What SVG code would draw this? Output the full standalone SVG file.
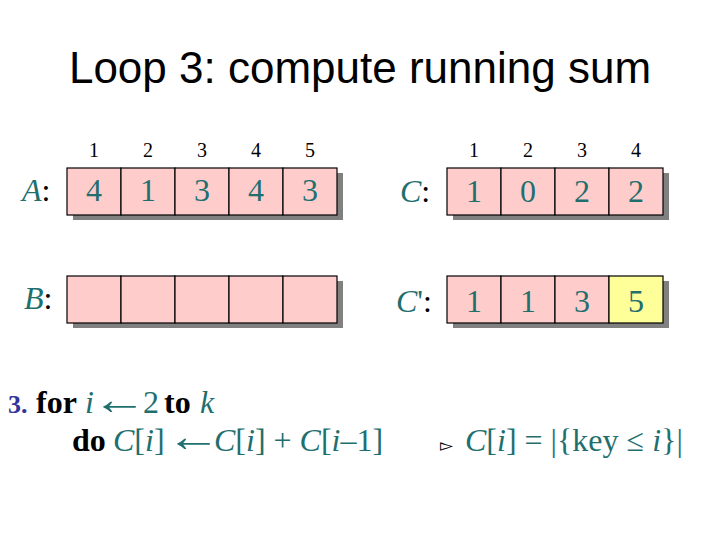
<svg xmlns="http://www.w3.org/2000/svg" width="720" height="540" viewBox="0 0 720 540">
<style>
.cell{fill:#ffcccc;stroke:#000;stroke-width:1.2}
.y{fill:#ffff99}
.sh{fill:#808080}
.idx{font-family:'Liberation Serif',serif;font-size:20px;fill:#000;text-anchor:middle}
.num{font-family:'Liberation Serif',serif;font-size:32px;fill:#1f6f6f;text-anchor:middle}
.lab{font-family:'Liberation Serif',serif;font-size:32px;fill:#1f6f6f}
.t{font-family:'Liberation Serif',serif;font-size:32px}
.tl{fill:#1f6f6f}
.it{font-style:italic}
.b{font-weight:bold;fill:#000}
.ar{font-family:'Liberation Serif',serif;font-size:44px;fill:#1f6f6f}
</style>
<rect width="720" height="540" fill="#fff"/>
<text x="360" y="83" font-family="Liberation Sans, Arial, sans-serif" font-size="44" text-anchor="middle" fill="#000">Loop 3: compute running sum</text>

<g id="arrayA">
<rect class="sh" x="73" y="173" width="270" height="47"/>
<rect class="cell" x="67" y="168" width="54" height="47"/>
<rect class="cell" x="121" y="168" width="54" height="47"/>
<rect class="cell" x="175" y="168" width="54" height="47"/>
<rect class="cell" x="229" y="168" width="54" height="47"/>
<rect class="cell" x="283" y="168" width="54" height="47"/>
<text class="idx" x="94" y="157">1</text><text class="idx" x="148" y="157">2</text><text class="idx" x="202" y="157">3</text><text class="idx" x="256" y="157">4</text><text class="idx" x="310" y="157">5</text>
<text class="num" x="94" y="201">4</text><text class="num" x="148" y="201">1</text><text class="num" x="202" y="201">3</text><text class="num" x="256" y="201">4</text><text class="num" x="310" y="201">3</text>
<text class="lab" x="22" y="201"><tspan class="it">A</tspan><tspan fill="#000">:</tspan></text>
</g>

<g id="arrayB">
<rect class="sh" x="73" y="281" width="270" height="47"/>
<rect class="cell" x="67" y="276" width="54" height="47"/>
<rect class="cell" x="121" y="276" width="54" height="47"/>
<rect class="cell" x="175" y="276" width="54" height="47"/>
<rect class="cell" x="229" y="276" width="54" height="47"/>
<rect class="cell" x="283" y="276" width="54" height="47"/>
<text class="lab" x="24" y="309"><tspan class="it">B</tspan><tspan fill="#000">:</tspan></text>
</g>

<g id="arrayC">
<rect class="sh" x="453" y="173" width="216" height="47"/>
<rect class="cell" x="447" y="168" width="54" height="47"/>
<rect class="cell" x="501" y="168" width="54" height="47"/>
<rect class="cell" x="555" y="168" width="54" height="47"/>
<rect class="cell" x="609" y="168" width="54" height="47"/>
<text class="idx" x="474" y="157">1</text><text class="idx" x="528" y="157">2</text><text class="idx" x="582" y="157">3</text><text class="idx" x="636" y="157">4</text>
<text class="num" x="474" y="202">1</text><text class="num" x="528" y="202">0</text><text class="num" x="582" y="202">2</text><text class="num" x="636" y="202">2</text>
<text class="lab" x="400" y="202"><tspan class="it">C</tspan><tspan fill="#000">:</tspan></text>
</g>

<g id="arrayC2">
<rect class="sh" x="453" y="281" width="216" height="47"/>
<rect class="cell" x="447" y="276" width="54" height="47"/>
<rect class="cell" x="501" y="276" width="54" height="47"/>
<rect class="cell" x="555" y="276" width="54" height="47"/>
<rect class="cell y" x="609" y="276" width="54" height="47"/>
<text class="num" x="474" y="312">1</text><text class="num" x="528" y="312">1</text><text class="num" x="582" y="312">3</text><text class="num" x="636" y="312">5</text>
<text class="lab" x="396" y="312"><tspan class="it">C</tspan><tspan>'</tspan><tspan fill="#000">:</tspan></text>
</g>

<g id="code">
<text class="t" x="8" y="413"><tspan font-size="26" font-weight="bold" fill="#333399">3.</tspan><tspan class="b" x="36">for</tspan><tspan class="tl it" x="85">i</tspan><tspan class="tl" x="143">2</tspan><tspan class="b" x="164">to</tspan><tspan class="tl it" x="200">k</tspan></text>
<text class="ar" transform="translate(92,413.5) scale(1.25,1)">←</text>
<text class="t" x="72" y="451"><tspan class="b">do</tspan><tspan class="tl" x="113"><tspan class="it">C</tspan>[<tspan class="it">i</tspan>]</tspan><tspan class="tl" x="214"><tspan class="it">C</tspan>[<tspan class="it">i</tspan>] + <tspan class="it">C</tspan>[<tspan class="it">i</tspan>–1]</tspan></text>
<text class="ar" transform="translate(166,451) scale(1.25,1)">←</text>
<text class="t" x="440" y="451"><tspan font-family="DejaVu Sans, sans-serif" font-size="17" fill="#000">▻</tspan><tspan class="tl" x="465"><tspan class="it">C</tspan>[<tspan class="it">i</tspan>] = |{key ≤ <tspan class="it">i</tspan>}|</tspan></text>
</g>
</svg>
